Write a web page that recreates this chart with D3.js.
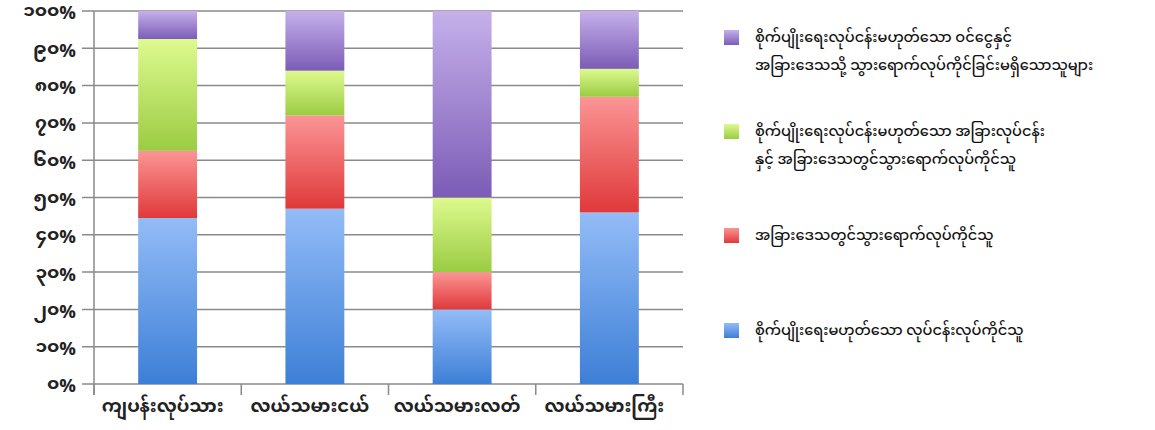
<!DOCTYPE html>
<html><head><meta charset="utf-8">
<script src="https://cdn.jsdelivr.net/npm/d3@7"></script>
<style>
html,body{margin:0;padding:0;background:#fff;}
text{font-family:"Noto Sans Myanmar","Noto Sans","Padauk","Myanmar Text",sans-serif;}
text.ylab{font-family:"Noto Sans Myanmar UI","Noto Sans Myanmar","Noto Sans",sans-serif;}
</style></head>
<body>
<svg id="chart" width="1155" height="430"></svg>
<script>
const categories = ["ကျပန်းလုပ်သား", "လယ်သမားငယ်", "လယ်သမားလတ်", "လယ်သမားကြီး"];
const seriesNames = [
  "စိုက်ပျိုးရေးမဟုတ်သော လုပ်ငန်းလုပ်ကိုင်သူ",
  "အခြားဒေသတွင်သွားရောက်လုပ်ကိုင်သူ",
  "စိုက်ပျိုးရေးလုပ်ငန်းမဟုတ်သော အခြားလုပ်ငန်း|နှင့် အခြားဒေသတွင်သွားရောက်လုပ်ကိုင်သူ",
  "စိုက်ပျိုးရေးလုပ်ငန်းမဟုတ်သော ဝင်ငွေနှင့်|အခြားဒေသသို့ သွားရောက်လုပ်ကိုင်ခြင်းမရှိသောသူများ"
];
const blueValues   = [44.5, 47, 20, 46];
const redValues    = [18, 25, 10, 31];
const greenValues  = [30, 12, 20, 7.5];
const purpleValues = [7.5, 16, 50, 15.5];
const yTickValues = [0,10,20,30,40,50,60,70,80,90,100];
const yTickLabels = ["၀%","၁၀%","၂၀%","၃၀%","၄၀%","၅၀%","၆၀%","၇၀%","၈၀%","၉၀%","၁၀၀%"];
const colors = [
  ["#93bcf7","#3d7fd6"],
  ["#fb9595","#e0393a"],
  ["#ddfa8e","#9bcb43"],
  ["#c5b0ea","#7c5cb6"]
];

const svg = d3.select("#chart");
const margin = {left:94, right:472, top:11, bottom:46};
const W = 1155, H = 430;
const x = d3.scaleBand().domain(categories).range([margin.left, W - margin.right]).paddingInner(0.6).paddingOuter(0.3);
const y = d3.scaleLinear().domain([0,100]).range([H - margin.bottom, margin.top]);

const defs = svg.append("defs");
colors.forEach((c,i)=>{
  const g = defs.append("linearGradient").attr("id","g"+i).attr("x1",0).attr("y1",0).attr("x2",0).attr("y2",1);
  g.append("stop").attr("offset","0%").attr("stop-color",c[0]);
  g.append("stop").attr("offset","100%").attr("stop-color",c[1]);
});

// gridlines
svg.append("g").selectAll("line").data(yTickValues).join("line")
  .attr("x1", margin.left - 12).attr("x2", W - margin.right)
  .attr("y1", d=>y(d)).attr("y2", d=>y(d))
  .attr("stroke","#8a8a8a").attr("stroke-width",1.5);

// y axis line
svg.append("line").attr("x1",margin.left).attr("x2",margin.left)
  .attr("y1",y(100)).attr("y2",y(0)+11).attr("stroke","#8a8a8a").attr("stroke-width",1.5);

// category ticks
const bounds = categories.map(c=>x(c) - x.step()*x.paddingInner()/2).concat([W - margin.right]);
svg.append("g").selectAll("line").data(bounds).join("line")
  .attr("x1",d=>d).attr("x2",d=>d).attr("y1",y(0)).attr("y2",y(0)+11)
  .attr("stroke","#8a8a8a").attr("stroke-width",1.5);

// stacked data
const table = categories.map((c,i)=>({cat:c, s0:blueValues[i], s1:redValues[i], s2:greenValues[i], s3:purpleValues[i]}));
const stack = d3.stack().keys(["s0","s1","s2","s3"])(table);
svg.append("g").selectAll("g").data(stack).join("g")
  .attr("fill",(d,i)=>"url(#g"+i+")")
  .selectAll("rect").data(d=>d).join("rect")
  .attr("x",d=>x(d.data.cat)).attr("width",x.bandwidth())
  .attr("y",d=>y(d[1])).attr("height",d=>y(d[0])-y(d[1]));

// y labels
svg.append("g").selectAll("text").data(yTickValues).join("text")
  .attr("class","ylab")
  .attr("x",76).attr("y",d=>y(d)+2).attr("dy","0.35em")
  .attr("text-anchor","end").attr("font-size",18.5).attr("font-weight","bold").attr("fill","#222")
  .text((d,i)=>yTickLabels[i]);

// x labels
svg.append("g").selectAll("text").data(categories).join("text")
  .attr("x",d=>x(d)+x.bandwidth()/2 - 5).attr("y",406).attr("dy","0.35em")
  .attr("text-anchor","middle").attr("font-size",18).attr("font-weight","bold").attr("fill","#222")
  .text(d=>d);

// legend
const legendY = [37, 131, 235, 330];
const order = [3,2,1,0];
order.forEach((si,k)=>{
  const lines = seriesNames[si].split("|");
  const cy = legendY[k];
  svg.append("rect").attr("x",724).attr("y",cy-7).attr("width",15).attr("height",15).attr("fill","url(#g"+si+")");
  lines.forEach((t,j)=>{
    svg.append("text").attr("x",755).attr("y",cy + j*28).attr("dy","0.35em")
      .attr("font-size",14.5).attr("font-weight",500).attr("fill","#111").text(t);
  });
});
</script>
</body></html>
